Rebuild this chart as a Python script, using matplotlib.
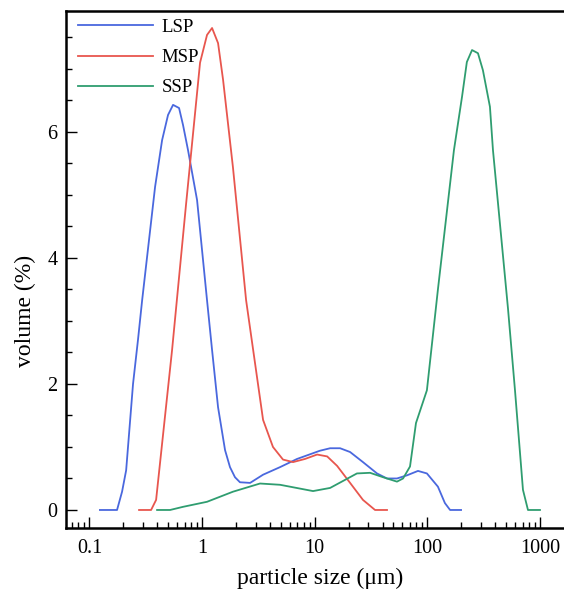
import numpy as np
import matplotlib
matplotlib.use('Agg')
import matplotlib.pyplot as plt
from matplotlib.ticker import MultipleLocator, LogLocator, NullFormatter, FixedLocator

plt.rcParams['font.family'] = ['Liberation Serif', 'DejaVu Serif']

# particle size (um) and volume (%)
lsp_d = [0.124, 0.176, 0.195, 0.212, 0.244, 0.270, 0.294, 0.383, 0.442, 0.499,
         0.553, 0.625, 0.678, 0.751, 0.903, 1.107, 1.227, 1.387, 1.60, 1.77,
         1.96, 2.17, 2.67, 3.48, 4.92, 6.97, 11.1, 13.7, 16.8, 20.6,
         26.8, 35.7, 43.8, 53.7, 65.9, 82.5, 99, 124, 143, 159, 199]
lsp_v = [0, 0, 0.29, 0.63, 2.0, 2.7, 3.33, 5.13, 5.87, 6.27,
         6.43, 6.38, 6.11, 5.71, 4.92, 3.33, 2.54, 1.63, 0.95, 0.68,
         0.52, 0.44, 0.43, 0.56, 0.68, 0.81, 0.94, 0.98, 0.98, 0.92,
         0.76, 0.58, 0.50, 0.50, 0.55, 0.62, 0.58, 0.37, 0.11, 0, 0]

msp_d = [0.276, 0.353, 0.391, 0.542, 0.721, 0.960, 1.107, 1.227, 1.387, 1.536,
         1.88, 2.46, 3.48, 4.26, 5.23, 6.42, 8.2, 10.5, 12.9, 15.8, 20.6,
         26.8, 34.3, 43.8]
msp_v = [0, 0, 0.16, 2.54, 4.85, 7.1, 7.54, 7.65, 7.41, 6.83,
         5.44, 3.33, 1.43, 1.0, 0.80, 0.76, 0.81, 0.88, 0.85, 0.70, 0.43,
         0.16, 0, 0]

ssp_d = [0.399, 0.520, 0.678, 1.107, 1.88, 3.27, 4.92, 9.66, 13.7, 23.7,
         31.0, 40.4, 53.7, 60.8, 70.1, 79.2, 99, 124, 172, 203,
         224, 249, 281, 311, 359, 382, 519, 599, 705, 781, 998]
ssp_v = [0, 0, 0.05, 0.13, 0.29, 0.42, 0.40, 0.30, 0.35, 0.58,
         0.59, 0.52, 0.45, 0.50, 0.69, 1.38, 1.90, 3.5, 5.71, 6.56,
         7.11, 7.30, 7.25, 6.98, 6.40, 5.71, 3.2, 1.9, 0.32, 0, 0]

fig = plt.figure(figsize=(5.64, 5.91), dpi=100)
ax = fig.add_axes([0.117, 0.1066, 0.9007, 0.8748])

ax.plot(lsp_d, lsp_v, color='#4a68de', lw=1.3, label='LSP')
ax.plot(msp_d, msp_v, color='#e8564e', lw=1.3, label='MSP')
ax.plot(ssp_d, ssp_v, color='#2f9d70', lw=1.3, label='SSP')

ax.set_xscale('log')
ax.set_xlim(0.062, 2000)
ax.set_ylim(-0.286, 7.92)

ax.xaxis.set_major_locator(FixedLocator([0.1, 1, 10, 100, 1000]))
ax.set_xticklabels(['0.1', '1', '10', '100', '1000'])
ax.xaxis.set_minor_locator(LogLocator(base=10, subs=np.arange(2, 10)))
ax.xaxis.set_minor_formatter(NullFormatter())
ax.yaxis.set_major_locator(MultipleLocator(2))
ax.yaxis.set_minor_locator(MultipleLocator(0.5))

ax.tick_params(which='both', direction='in', labelsize=14.5, width=1.0)
ax.tick_params(which='major', length=8)
ax.tick_params(which='minor', length=4)
ax.tick_params(axis='x', pad=8)
ax.tick_params(axis='y', pad=6)
for s in ax.spines.values():
    s.set_linewidth(1.8)

ax.set_xlabel('particle size (μm)', fontsize=17, labelpad=7)
ax.set_ylabel('volume (%)', fontsize=17)
ax.yaxis.set_label_coords(-0.059, 0.42)

ax.legend(loc='upper left', bbox_to_anchor=(0.0236, 0.985), frameon=False,
          fontsize=13.5, handlelength=4.0, handletextpad=0.45,
          labelspacing=0.7, borderpad=0, borderaxespad=0)

fig.savefig('out.png', dpi=100)
